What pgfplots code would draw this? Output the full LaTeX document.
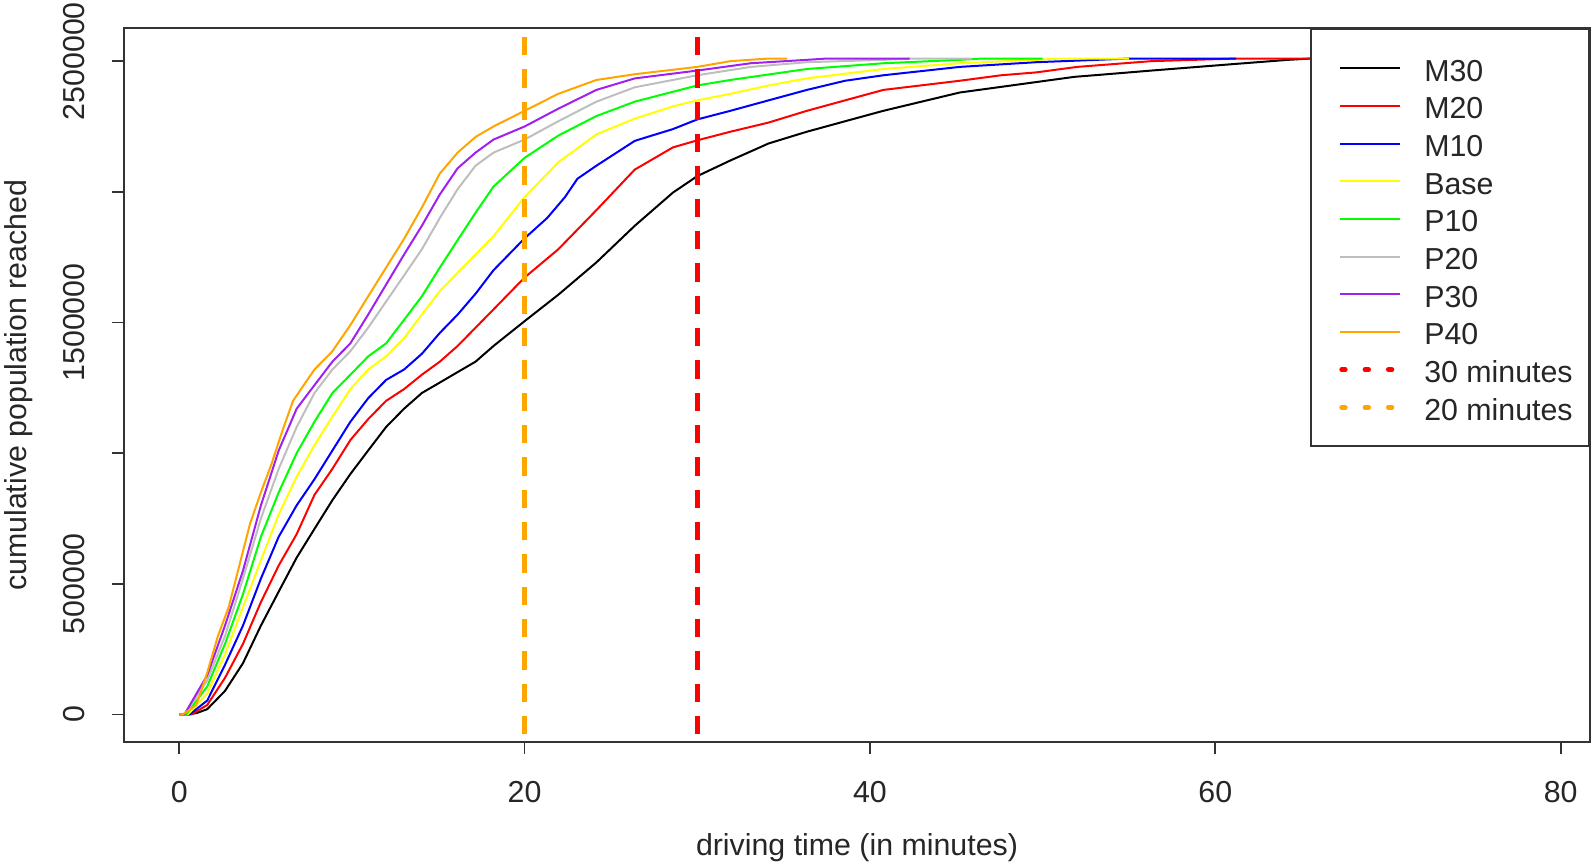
\documentclass[border=0pt]{standalone}
\usepackage{pgfplots}
\pgfplotsset{compat=1.18}
\usepackage{fontspec}
\setmainfont{Liberation Sans}
\definecolor{rgray}{HTML}{BEBEBE}
\definecolor{rpurple}{HTML}{A020F0}
\definecolor{rorange}{HTML}{FFA500}
\definecolor{rgreen}{HTML}{00FF00}
\definecolor{ryellow}{HTML}{FFFF00}
\newcommand{\fnt}{\fontsize{9.1}{11}\selectfont}
\pgfplotsset{dotlegend/.style={legend image code/.code={\path (0pt,0pt); \draw[##1, line width=1.4pt, dash pattern=on 1.1pt off 5.9pt, line cap=round] (3.4pt,0pt) -- (21pt,0pt);}}}
\begin{document}
\begin{tikzpicture}
\path[use as bounding box] (-37.2pt,-37.3pt) rectangle (440.7pt,222.55pt);
\begin{axis}[
  scale only axis, width=439.8pt, height=214pt,
  at={(0,0)}, anchor=south west,
  xmin=-3.2, xmax=81.7, ymin=-105000, ymax=2625000,
  axis line style={draw=black!80, line width=0.6pt},
  tick align=outside, major tick length=3.7pt,
  tick style={draw=black!80, line width=0.5pt},
  xtick pos=left, ytick pos=left,
  xtick={0,20,40,60,80}, xticklabels={0,20,40,60,80},
  ytick={0,500000,1000000,1500000,2000000,2500000},
  yticklabels={0,500000,,1500000,,2500000},
  scaled y ticks=false,
  xticklabel style={font=\fnt, text=black!85, inner sep=0pt, anchor=north, yshift=-7.9pt},
  yticklabel style={font=\fnt, text=black!85, inner sep=0pt, xshift=-7.9pt, rotate=90, anchor=south},
  xlabel={driving time (in minutes)},
  ylabel={cumulative population reached},
  every axis x label/.style={at={(axis description cs:0.5,0)}, yshift=-27.3pt, anchor=north, inner sep=0pt, font=\fnt, text=black!85},
  every axis y label/.style={at={(axis description cs:0,0.5)}, xshift=-31.7pt, rotate=90, anchor=center, inner sep=0pt, font=\fnt, text=black!85},
  legend style={at={(1,1)}, anchor=north east, draw=black!80, line width=0.6pt, fill=white,
    font=\fnt, inner xsep=4.9pt, inner ysep=6pt,
    nodes={inner sep=0pt, text height=9.5pt, text depth=1.8pt, text=black!85},
    /tikz/every odd column/.append style={column sep=6.5pt}},
  legend cell align=left,
  legend image code/.code={\path (0pt,0pt); \draw[#1] (3pt,0pt) -- (21pt,0pt);},
  every axis plot/.append style={line width=0.6pt},
]
% M30
\addplot[black] table {
0 0
0.5 0
1.0 5000
1.62 20000
2.65 90000
3.69 196000
4.73 340000
5.76 470000
6.80 600000
7.83 710000
8.87 820000
9.91 920000
10.94 1010000
11.98 1100000
13.02 1170000
14.05 1230000
15.09 1270000
16.12 1310000
17.16 1350000
18.20 1410000
20.00 1505000
21.95 1606000
24.16 1730000
26.38 1870000
28.59 1997000
30.00 2060000
31.92 2120000
34.13 2185000
36.35 2230000
38.56 2270000
40.78 2310000
42.99 2345000
45.20 2380000
47.42 2400000
49.63 2420000
51.85 2440000
53.36 2448000
56.30 2464000
60.70 2487000
64.20 2505000
65.50 2510000
79.00 2510000
};
\addlegendentry{M30}
% M20
\addplot[red] table {
0 0
0.7 0
1.62 36000
2.65 140000
3.69 270000
4.73 430000
5.76 570000
6.80 690000
7.83 840000
8.87 940000
9.91 1050000
10.94 1130000
11.98 1200000
13.02 1245000
14.05 1300000
15.09 1350000
16.12 1410000
17.16 1480000
18.20 1550000
20.00 1672000
21.95 1780000
24.16 1930000
26.38 2085000
28.59 2170000
30.00 2197000
31.92 2230000
34.13 2265000
36.35 2310000
38.56 2350000
40.78 2390000
45.20 2425000
47.60 2446000
49.63 2457000
52.00 2478000
56.30 2500000
61.20 2510000
65.50 2510000
};
\addlegendentry{M20}
% M10
\addplot[blue] table {
0 0
0.6 0
1.62 53000
2.65 190000
3.69 340000
4.73 520000
5.76 680000
6.80 800000
7.83 900000
8.87 1010000
9.91 1120000
10.94 1210000
11.98 1280000
13.02 1320000
14.05 1380000
15.09 1460000
16.12 1530000
17.16 1610000
18.20 1700000
20.00 1822000
21.31 1900000
22.34 1980000
23.06 2050000
24.16 2100000
26.38 2195000
28.59 2240000
30.00 2277000
31.92 2310000
34.13 2350000
36.35 2390000
38.56 2425000
40.78 2446000
45.20 2478000
49.63 2496000
52.00 2502000
55.00 2510000
61.20 2510000
};
\addlegendentry{M10}
% Base
\addplot[ryellow] table {
0 0
0.5 0
1.62 80000
2.65 230000
3.69 410000
4.73 590000
5.76 765000
6.80 910000
7.83 1030000
8.87 1140000
9.91 1245000
10.94 1320000
11.98 1370000
13.02 1440000
14.05 1530000
15.09 1620000
16.12 1690000
17.16 1760000
18.20 1830000
20.00 1980000
21.95 2113000
24.16 2220000
26.38 2280000
28.59 2327000
30.00 2350000
31.92 2375000
34.13 2407000
36.35 2434000
40.78 2470000
45.20 2492000
49.63 2505000
51.00 2510000
55.00 2510000
};
\addlegendentry{Base}
% P10
\addplot[rgreen] table {
0 0
0.4 0
1.62 107000
2.65 270000
3.69 460000
4.73 680000
5.76 850000
6.80 1000000
7.83 1120000
8.87 1230000
9.91 1300000
10.94 1370000
11.98 1420000
13.02 1510000
14.05 1600000
15.09 1710000
16.12 1815000
17.16 1920000
18.20 2020000
20.00 2130000
21.95 2215000
24.16 2290000
26.38 2345000
30.00 2407000
31.92 2428000
36.35 2470000
40.78 2492000
45.20 2505000
46.50 2510000
50.00 2510000
};
\addlegendentry{P10}
% P20
\addplot[rgray] table {
0 0
0.3 0
1.62 130000
2.65 300000
3.69 520000
4.73 750000
5.76 940000
6.80 1100000
7.83 1230000
8.87 1320000
9.91 1390000
10.94 1480000
11.98 1580000
13.02 1680000
14.05 1780000
15.09 1900000
16.12 2010000
17.16 2100000
18.20 2150000
20.00 2200000
21.95 2270000
24.16 2345000
26.38 2400000
30.00 2446000
33.10 2478000
36.35 2496000
40.78 2505000
42.50 2510000
45.90 2510000
};
\addlegendentry{P20}
% P30
\addplot[rpurple] table {
0 0
0.3 0
1.62 150000
2.65 340000
3.69 550000
4.73 800000
5.76 1010000
6.80 1170000
7.83 1260000
8.87 1350000
9.91 1420000
10.94 1530000
11.98 1645000
13.02 1760000
14.05 1870000
15.09 1990000
16.12 2090000
17.16 2150000
18.20 2200000
20.00 2250000
21.95 2318000
24.16 2390000
26.38 2434000
30.00 2464000
33.10 2492000
36.35 2505000
37.50 2510000
42.30 2510000
};
\addlegendentry{P30}
% P40
\addplot[rorange] table {
0 0
0.2 0
0.99 36000
1.62 160000
2.24 300000
2.86 410000
3.48 570000
4.10 730000
4.73 850000
5.35 960000
5.97 1085000
6.59 1200000
7.21 1260000
7.83 1320000
8.87 1390000
9.91 1490000
10.94 1600000
11.98 1710000
13.02 1820000
14.05 1940000
15.09 2070000
16.12 2150000
17.16 2210000
18.20 2250000
20.00 2310000
21.95 2375000
24.16 2428000
26.38 2450000
30.00 2478000
31.92 2500000
34.13 2510000
35.20 2510000
};
\addlegendentry{P40}
% vertical reference lines
\addplot[red, line width=1.6pt, dash pattern=on 5.5pt off 4.2pt, dotlegend] table {
30 -200000
30 2800000
};
\addlegendentry{30 minutes}
\addplot[rorange, line width=1.6pt, dash pattern=on 5.5pt off 4.2pt, dotlegend] table {
20 -200000
20 2800000
};
\addlegendentry{20 minutes}
\end{axis}
\end{tikzpicture}
\end{document}
